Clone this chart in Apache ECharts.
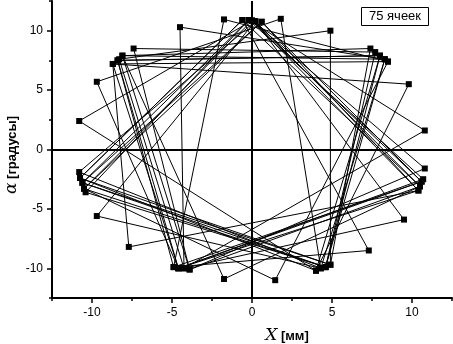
<!DOCTYPE html>
<html>
<head>
<meta charset="utf-8">
<script src="https://cdn.jsdelivr.net/npm/echarts@6/dist/echarts.min.js"></script>
<style>
  html, body { margin: 0; padding: 0; background: #fff; }
  #chart { width: 453px; height: 344px; }
</style>
</head>
<body>
<div id="chart"></div>
<script>
// trajectory, 75 points (order of passage)
let xValues = [
  0.0, 10.6, -4.6, -8.4, 8.0, 4.6, -10.6,
  -0.2, 10.8, -4.25, -4.5, 8.3, 4.3, -9.7,
  0.2, 10.5, -1.75, -8.1, 7.4, 4.9, -10.75,
  -0.6, 7.3, -4.9, -1.75, 8.5, 1.45, -10.5,
  0.6, 10.4, -7.7, -8.7, 9.8, 4.0, -10.8,
  0.0, 10.8, -3.9, -7.4, 7.7, 4.6, -10.4,
  -0.2, 10.7, -4.6, -9.7, 1.8, 4.3, -10.8,
  0.2, 9.5, -4.25, -8.3, 4.9, 4.9, -10.6,
  0.6, 10.6, -4.9, -8.4, 8.0, 4.0, -10.75,
  -0.6, 10.5, -3.9, -8.1, 8.3, 4.6, -10.5,
  0.0, 10.4, -4.6, -8.7, 8.5
];
let yValues = [
  10.85, -2.7, -10.0, 7.5, 7.9, -9.9, -2.8,
  10.9, 1.6, -10.0, 10.3, 7.6, -10.0, -5.6,
  10.8, -3.1, -10.9, 7.9, 8.5, -9.7, -2.4,
  10.9, -8.5, -9.9, 10.95, 7.4, -11.0, -3.3,
  10.75, -3.45, -8.2, 7.2, 5.5, -10.2, 2.4,
  10.85, -1.6, -10.1, 8.5, 8.2, -9.9, -3.6,
  10.9, -2.5, -10.0, 5.7, 11.0, -10.0, -1.9,
  10.8, -5.9, -10.0, 7.6, 10.0, -9.7, -2.8,
  10.75, -2.7, -9.9, 7.5, 7.9, -10.2, -2.4,
  10.9, -3.1, -10.1, 7.9, 7.6, -9.9, -3.3,
  10.85, -3.45, -10.0, 7.2, 7.4
];
let majorTicks = [-10, -5, 0, 5, 10];
let minorTicks = [-12.5, -7.5, -2.5, 2.5, 7.5, 12.5];
let legendText = '75 ячеек';

let points = xValues.map((x, i) => [x, yValues[i]]);
let font = '"Liberation Sans", Arial, sans-serif';

function axisCommon(withLabels, ticks, len) {
  return {
    type: 'value',
    min: -12.5,
    max: 12.5,
    splitLine: { show: false },
    axisLine: { show: withLabels, onZero: false, lineStyle: { color: '#000', width: 2 } },
    axisTick: { show: true, customValues: ticks, length: len, inside: false, lineStyle: { color: '#000', width: 1.5 } },
    axisLabel: withLabels ? {
      customValues: ticks, color: '#000', fontFamily: font, fontSize: 12, margin: 9
    } : { show: false }
  };
}

let myChart = echarts.init(document.getElementById('chart'), null, { renderer: 'canvas' });
myChart.setOption({
  animation: false,
  backgroundColor: '#fff',
  grid: [
    { left: 52, right: 1, top: 1, bottom: 46 },
    { left: 52, right: 1, top: 1, bottom: 46 }
  ],
  xAxis: [
    Object.assign(axisCommon(true, majorTicks, 5), { gridIndex: 0, position: 'bottom' }),
    Object.assign(axisCommon(false, minorTicks, 3), { gridIndex: 1, position: 'bottom' })
  ],
  yAxis: [
    Object.assign(axisCommon(true, majorTicks, 5), { gridIndex: 0, position: 'left' }),
    Object.assign(axisCommon(false, minorTicks, 3), { gridIndex: 1, position: 'left' })
  ],
  title: {
    text: legendText,
    left: 361,
    top: 7,
    borderColor: '#000',
    borderWidth: 1,
    padding: [3, 8],
    textStyle: { color: '#000', fontFamily: font, fontSize: 13, fontWeight: 'normal' }
  },
  graphic: [
    {
      type: 'text',
      x: 287,
      y: 336,
      style: {
        text: '{i|X} {b|[мм]}',
        fill: '#000',
        fontFamily: font,
        fontSize: 13,
        align: 'center',
        verticalAlign: 'middle',
        rich: {
          i: { fontFamily: '"DejaVu Serif", serif', fontStyle: 'italic', fontSize: 17 },
          b: { fontFamily: font, fontSize: 13, fontWeight: 'bold' }
        }
      }
    },
    {
      type: 'text',
      x: 12,
      y: 155,
      rotation: Math.PI / 2,
      style: {
        text: '{i|α} {b|[градусы]}',
        fill: '#000',
        fontFamily: font,
        fontSize: 13,
        align: 'center',
        verticalAlign: 'middle',
        rich: {
          i: { fontFamily: '"DejaVu Serif", serif', fontStyle: 'italic', fontSize: 17 },
          b: { fontFamily: font, fontSize: 13, fontWeight: 'bold' }
        }
      }
    }
  ],
  series: [{
    type: 'line',
    xAxisIndex: 0,
    yAxisIndex: 0,
    symbol: 'rect',
    symbolSize: 6,
    showSymbol: true,
    itemStyle: { color: '#000' },
    lineStyle: { color: '#000', width: 1 },
    data: points,
    markLine: {
      silent: true,
      symbol: 'none',
      label: { show: false },
      lineStyle: { color: '#000', width: 2, type: 'solid' },
      data: [{ xAxis: 0 }, { yAxis: 0 }]
    }
  }]
});
</script>
</body>
</html>
